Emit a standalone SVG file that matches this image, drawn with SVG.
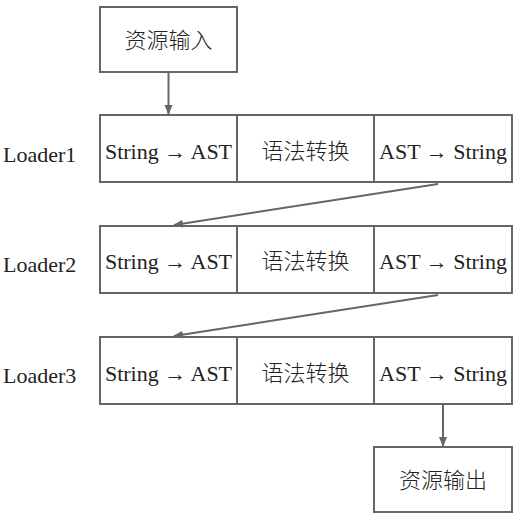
<svg xmlns="http://www.w3.org/2000/svg" width="521" height="521" viewBox="0 0 521 521">
<style>
.b{fill:#fff;stroke:#666;stroke-width:2}
text{font-family:"Liberation Serif","Noto Sans CJK SC",serif;font-size:22px;fill:#222}
.c{text-anchor:middle}
.cjk{font-family:"Noto Sans CJK SC",serif;font-weight:300}
line{stroke:#666;stroke-width:2}
</style>
<defs>
<marker id="ah" markerWidth="10" markerHeight="10" refX="9" refY="5" orient="auto" markerUnits="userSpaceOnUse">
<path d="M0,1 L10,5 L0,9 Z" fill="#666"/>
</marker>
</defs>
<rect width="521" height="521" fill="#fff"/>
<g id="input"><rect class="b" x="100" y="7" width="137" height="65"/><text class="c cjk" x="168.5" y="48">资源输入</text></g>
<g id="labels">
<text x="3" y="162">Loader1</text>
<text x="3" y="272">Loader2</text>
<text x="3" y="383">Loader3</text>
</g>
<g id="loader1">
<rect class="b" x="100" y="115" width="137" height="67"/><text class="c" x="168.5" y="159">String → AST</text>
<rect class="b" x="237" y="115" width="137" height="67"/><text class="c cjk" x="305.5" y="159">语法转换</text>
<rect class="b" x="374" y="115" width="138" height="67"/><text class="c" x="443" y="159">AST → String</text>
</g>
<g id="loader2">
<rect class="b" x="100" y="226" width="137" height="67"/><text class="c" x="168.5" y="269">String → AST</text>
<rect class="b" x="237" y="226" width="137" height="67"/><text class="c cjk" x="305.5" y="269">语法转换</text>
<rect class="b" x="374" y="226" width="138" height="67"/><text class="c" x="443" y="269">AST → String</text>
</g>
<g id="loader3">
<rect class="b" x="100" y="337" width="137" height="67"/><text class="c" x="168.5" y="381">String → AST</text>
<rect class="b" x="237" y="337" width="137" height="67"/><text class="c cjk" x="305.5" y="381">语法转换</text>
<rect class="b" x="374" y="337" width="138" height="67"/><text class="c" x="443" y="381">AST → String</text>
</g>
<g id="output"><rect class="b" x="374" y="447" width="138" height="65"/><text class="c cjk" x="443" y="488">资源输出</text></g>
<g id="connectors">
<line x1="168.5" y1="73" x2="168.5" y2="114" marker-end="url(#ah)"/>
<line x1="438" y1="184" x2="174" y2="225" marker-end="url(#ah)"/>
<line x1="438" y1="295" x2="174" y2="336" marker-end="url(#ah)"/>
<line x1="443" y1="405" x2="443" y2="446" marker-end="url(#ah)"/>
</g>
</svg>
